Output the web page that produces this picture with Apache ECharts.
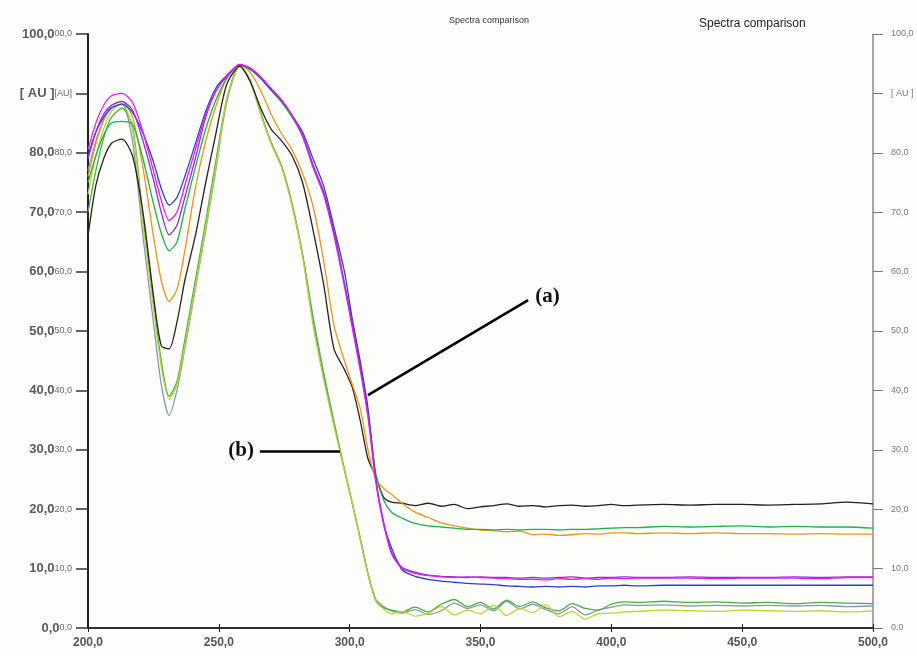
<!DOCTYPE html>
<html>
<head>
<meta charset="utf-8">
<script src="https://cdn.jsdelivr.net/npm/echarts@6/dist/echarts.min.js"></script>
<style>
  html, body { margin: 0; padding: 0; background: #fdfdfb; }
  #chart { width: 917px; height: 656px; }
</style>
</head>
<body>
<div id="chart"></div>
<script>
// wavelengths (nm)
var wavelengths = [200,203,206,209,213,217,221,225,228,231,234,237,241,245,249,253,258,262,266,270,274,278,282,286,290,294,298,301,304,307,310,313,316,320,325,330,335,340,345,350,355,360,365,370,375,380,385,390,395,400,405,410,420,430,440,450,460,470,480,490,500];

// group (a)
var blueA = [79.5,83.5,86,87.6,88.2,86.8,83.3,78.5,74,71.2, 72.5,76,81.5,87,91,93,94.8,94.2,92.6,90.6, 88.8,86.3,83.5,79,74.5,67.5,60,52,45,37, 25,17.5,13.5,9.8,8.7,8.2,7.9,7.7,7.5,7.4, 7.3,7.1,7.0,6.9,7.0,6.9,7.0,6.9,7.1,7.1, 7.2,7.1,7.2,7.2,7.2,7.2,7.2,7.2,7.2,7.2,7.2];
var magentaA = [80.5,85,88,89.6,90,88.5,83.5,77,72,68.6, 70,74.5,80.5,86.5,90.5,93,94.9,94.3,92.8,90.8, 88.9,86.2,82.8,77.5,73,66,57.5,50.5,43.5,35.5, 24.5,17.5,12.5,10,9.2,8.8,8.6,8.5,8.6,8.5, 8.4,8.3,8.2,8.2,8.1,8.3,8.2,8.3,8.2,8.4, 8.3,8.4,8.4,8.4,8.3,8.4,8.4,8.4,8.3,8.5,8.5];
var purpleA = [79,83.5,86.5,88,88.6,87.2,82,75.5,70,66.2, 67.8,72.5,79,86,90.5,92.8,94.8,94.2,92.7,90.8, 88.8,86.3,83,78,73.5,66.8,58,51.2,44,36, 25,17.8,12.8,10.2,9.4,8.9,8.7,8.6,8.5,8.6, 8.5,8.5,8.4,8.5,8.4,8.5,8.6,8.4,8.5,8.5, 8.6,8.5,8.5,8.6,8.5,8.5,8.5,8.6,8.5,8.6,8.6];
var greenA = [75,79.5,83,85,85.3,84.8,79,71.5,66.5,63.5, 65,70.5,77.5,84,89,92.5,94.8,94,92.5,90.5, 88.5,86,82.8,77.8,73.2,66.8,58,51.5,44.5,36.5, 26,21.5,19.5,18.5,17.6,17.2,17,16.8,16.6,16.6, 16.5,16.6,16.5,16.6,16.6,16.5,16.6,16.6,16.7,16.8, 16.9,16.9,17.1,17,17.1,17.2,17,17.1,17,17,16.8];
var orangeA = [76,81.5,85.5,88,88.7,86,77.5,66,58.5,55, 57,63.5,74,82,88,92.5,94.9,93.5,90.5,86.5, 83.2,80.5,76.5,71,62,51,45,41,37,30, 25,23.5,22.5,21,19.5,18.6,17.7,17.2,16.8,16.5, 16.4,16.2,16.3,15.7,15.8,15.6,15.7,15.9,15.8,16, 16,15.9,16,15.9,16,15.9,15.9,15.8,15.9,15.8,15.8];
var blackA = [66,74.5,79,81.6,82.3,79.5,70,56,47.5,47, 51.5,58.5,66,75,83.5,91.5,94.6,92,87.5,84, 82,79.5,75,67,58,47,43.5,40.5,35,28.5, 25.5,22,21.2,21,20.6,21,20.5,20.8,20.1,20.4, 20.6,20.9,20.5,20.6,20.4,20.6,20.7,20.5,20.6,20.8, 20.6,20.7,20.8,20.7,20.8,20.8,20.7,20.8,20.9,21.2,20.9];

// group (b)
var yellowB = [73,79.5,84,87,88.3,84,68,54,44,38.5, 41,47.5,57.5,67.5,78,89,94.5,92,86.5,81.5, 77.5,71,62.5,51,42,34,26.5,21,15,9, 4.5,3.2,2.4,2.8,2.0,2.5,3.6,2.2,3.0,2.4, 3.8,2.1,3.3,2.6,3.9,1.9,2.8,1.5,2.4,2.5, 2.7,2.8,3.0,2.9,2.8,3.0,2.9,2.8,2.9,2.7,2.9];
var steelB = [77,82,85.5,87.5,88.2,82,66,51.5,41,35.8, 40,47,57,67,77.5,88.5,94.6,92.2,86.8,81.8, 77.8,71.5,63,52.5,43.2,34.8,26.8,21,15.3,9.2, 4.8,3.6,2.9,2.5,3.1,2.3,2.9,4.2,3.3,3.9, 2.9,4.5,3.2,4.0,3.1,2.4,3.6,2.2,3.0,3.5, 3.9,3.8,3.9,3.7,3.8,3.7,3.8,3.7,3.8,3.6,3.7];
var greenB = [70,77,82.5,86,87.5,84.5,69,55,45,39, 41.5,48.5,58.5,68.5,79,89,94.7,92.1,86.6,81.6, 77.6,71.2,62.7,51.8,42.6,34.4,26.6,21,15.1,9.1, 4.6,3.4,3.0,2.7,3.5,2.7,4.0,4.8,3.6,4.3, 3.2,4.7,3.6,4.4,3.4,2.9,4.1,3.3,3.0,4.0, 4.4,4.3,4.5,4.3,4.4,4.2,4.3,4.1,4.3,4.2,4.1];

// tick labels
var xTickLabels = ['200,0','250,0','300,0','350,0','400,0','450,0','500,0'];
var leftTickLabels = ['0,0','10,0','20,0','30,0','40,0','50,0','60,0','70,0','80,0','[ AU ]','100,0'];
var leftTickSmall = ['0,0','10,0','20,0','30,0','40,0','50,0','60,0','70,0','80,0','[AU]','00,0'];
var rightTickLabels = ['0,0','10,0','20,0','30,0','40,0','50,0','60,0','70,0','80,0','[ AU ]','100,0'];

var curves = [
  { name: 'b1', values: steelB,   color: '#7f9cb0' },
  { name: 'b2', values: greenB,   color: '#4fab45' },
  { name: 'b3', values: yellowB,  color: '#b9d335' },
  { name: 'a6', values: blackA,   color: '#2b1e22' },
  { name: 'a5', values: orangeA,  color: '#e8961c' },
  { name: 'a4', values: greenA,   color: '#22b04c' },
  { name: 'a1', values: blueA,    color: '#2f3fcf' },
  { name: 'a3', values: purpleA,  color: '#8a2fd6' },
  { name: 'a2', values: magentaA, color: '#e21ee6' }
];

var series = curves.map(function (c) {
  return {
    name: c.name,
    type: 'line',
    data: wavelengths.map(function (w, i) { return [w, c.values[i]]; }),
    showSymbol: false,
    smooth: 0.25,
    lineStyle: { color: c.color, width: 1.3 },
    itemStyle: { color: c.color },
    silent: true,
    z: 3
  };
});

// annotation pointers (a) and (b)
series.push({
  type: 'line',
  data: [],
  silent: true,
  markLine: {
    symbol: ['none', 'none'],
    silent: true,
    lineStyle: { color: '#000', width: 2.5, type: 'solid' },
    label: { show: false },
    data: [
      [{ coord: [368.2, 55.2] }, { coord: [307.0, 39.2] }],
      [{ coord: [265.7, 29.7] }, { coord: [296.3, 29.7] }]
    ]
  },
  markPoint: {
    symbol: 'circle',
    symbolSize: 1,
    silent: true,
    itemStyle: { color: 'rgba(0,0,0,0)' },
    label: {
      show: true, position: 'inside', color: '#111',
      fontFamily: 'Liberation Serif', fontWeight: 'bold', fontSize: 21
    },
    data: [
      { coord: [375.6, 55.8], value: '(a)', label: { formatter: '(a)' } },
      { coord: [258.5, 29.8], value: '(b)', label: { formatter: '(b)' } }
    ]
  }
});

var chart = echarts.init(document.getElementById('chart'));
chart.setOption({
  backgroundColor: '#fdfdfb',
  animation: false,
  title: [
    { text: 'Spectra comparison', left: 444, top: 11,
      textStyle: { fontSize: 9, fontWeight: 'normal', color: '#333', fontFamily: 'Liberation Sans' } },
    { text: 'Spectra comparison', left: 694, top: 13,
      textStyle: { fontSize: 12, fontWeight: 'normal', color: '#222', fontFamily: 'Liberation Sans' } }
  ],
  grid: { left: 88, right: 44, top: 34, bottom: 28 },
  xAxis: [
    {
      type: 'value', position: 'bottom', min: 200, max: 500, interval: 50,
      axisLine: { lineStyle: { color: '#222', width: 1.5 } },
      axisTick: { length: 4, lineStyle: { color: '#222' } },
      splitLine: { show: false },
      axisLabel: {
        margin: 9, fontSize: 12, color: '#555', fontWeight: 'bold', fontFamily: 'Liberation Sans',
        formatter: function (v) { return xTickLabels[(v - 200) / 50]; }
      }
    },
    {
      type: 'value', position: 'top', min: 200, max: 500, interval: 50,
      axisLine: { lineStyle: { color: '#222', width: 1.5 } },
      axisTick: { length: 4, lineStyle: { color: '#222' } },
      splitLine: { show: false },
      axisLabel: { show: false }
    }
  ],
  yAxis: [
    {
      type: 'value', position: 'left', min: 0, max: 100, interval: 10,
      axisLine: { show: true, lineStyle: { color: '#222', width: 2 } },
      axisTick: { show: true, length: 12, lineStyle: { color: '#333', width: 1.5 } },
      splitLine: { show: false },
      axisLabel: {
        margin: 16,
        formatter: function (v) {
          var i = Math.round(v / 10);
          return '{a|' + leftTickLabels[i] + '}{b|' + leftTickSmall[i] + '}';
        },
        rich: {
          a: { fontSize: 13, fontWeight: 'bold', color: '#5a5a5a', fontFamily: 'Liberation Sans' },
          b: { fontSize: 9, color: '#666', fontFamily: 'Liberation Sans' }
        }
      }
    },
    {
      type: 'value', position: 'right', min: 0, max: 100, interval: 10,
      axisLine: { show: true, lineStyle: { color: '#8a8a8a', width: 1.5 } },
      axisTick: { show: true, length: 10, lineStyle: { color: '#777' } },
      splitLine: { show: false },
      axisLabel: {
        margin: 18, fontSize: 9, color: '#777', fontFamily: 'Liberation Sans',
        formatter: function (v) { return rightTickLabels[Math.round(v / 10)]; }
      }
    }
  ],
  series: series
});
</script>
</body>
</html>
